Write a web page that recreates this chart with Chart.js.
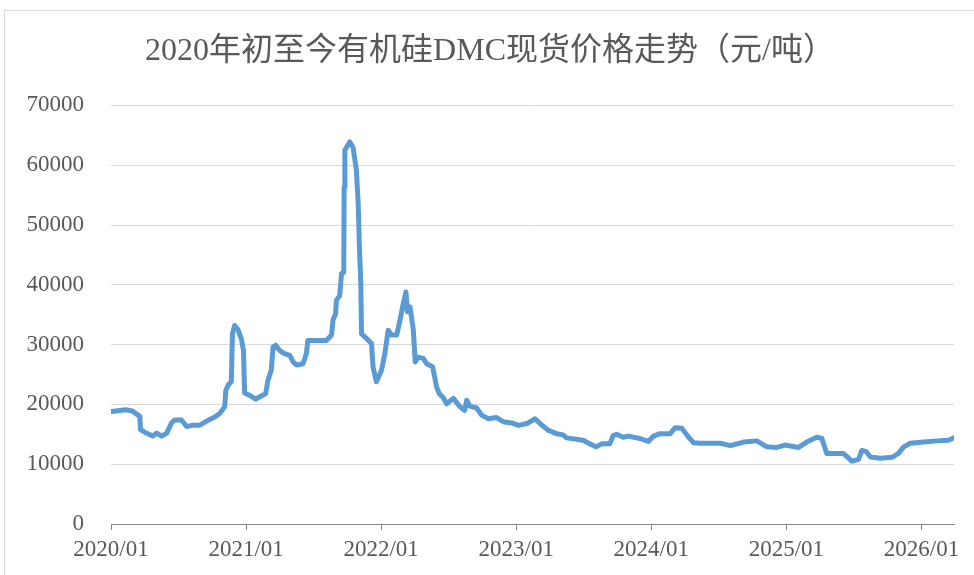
<!DOCTYPE html>
<html>
<head>
<meta charset="utf-8">
<script src="https://cdn.jsdelivr.net/npm/chart.js@4/dist/chart.umd.min.js"></script>
<style>
  html, body { margin: 0; padding: 0; background: #fff; overflow: hidden; }
  #wrap { position: relative; width: 974px; height: 575px; }
</style>
</head>
<body>
<div id="wrap"><canvas id="chart" width="974" height="575"></canvas></div>
<script>
const title = "2020年初至今有机硅DMC现货价格走势（元/吨）"

const dates = [
  "2020-01-03", "2020-02-10", "2020-02-28", "2020-03-19", "2020-03-21", "2020-04-06",
  "2020-04-23", "2020-05-04", "2020-05-17", "2020-05-31", "2020-06-13", "2020-06-22",
  "2020-07-10", "2020-07-24", "2020-08-07", "2020-08-27", "2020-09-16", "2020-10-08",
  "2020-10-22", "2020-11-04", "2020-11-07", "2020-11-13", "2020-11-22", "2020-11-25",
  "2020-12-01", "2020-12-10", "2020-12-19", "2020-12-25", "2020-12-28", "2021-01-11",
  "2021-01-27", "2021-02-11", "2021-02-23", "2021-03-01", "2021-03-10", "2021-03-15",
  "2021-03-22", "2021-04-02", "2021-04-15", "2021-04-29", "2021-05-08", "2021-05-17",
  "2021-06-04", "2021-06-13", "2021-06-17", "2021-08-06", "2021-08-20", "2021-08-24",
  "2021-08-31", "2021-09-02", "2021-09-11", "2021-09-16", "2021-09-22", "2021-09-23",
  "2021-09-25", "2021-10-08", "2021-10-17", "2021-10-26", "2021-10-31", "2021-11-03",
  "2021-11-07", "2021-11-09", "2021-11-23", "2021-12-06", "2021-12-10", "2021-12-19",
  "2022-01-02", "2022-01-11", "2022-01-20", "2022-01-29", "2022-02-12", "2022-02-21",
  "2022-03-02", "2022-03-09", "2022-03-13", "2022-03-20", "2022-03-29", "2022-04-03",
  "2022-04-11", "2022-04-25", "2022-05-04", "2022-05-20", "2022-05-31", "2022-06-07",
  "2022-06-17", "2022-06-27", "2022-07-15", "2022-08-02", "2022-08-15", "2022-08-20",
  "2022-08-29", "2022-09-16", "2022-09-30", "2022-10-18", "2022-11-09", "2022-11-27",
  "2022-12-20", "2023-01-07", "2023-01-30", "2023-02-21", "2023-03-10", "2023-03-28",
  "2023-04-20", "2023-05-08", "2023-05-17", "2023-07-01", "2023-07-19", "2023-08-05",
  "2023-08-20", "2023-09-11", "2023-09-20", "2023-09-29", "2023-10-17", "2023-10-31",
  "2023-12-01", "2023-12-24", "2024-01-07", "2024-01-25", "2024-02-21", "2024-03-06",
  "2024-03-24", "2024-04-06", "2024-04-24", "2024-05-13", "2024-07-06", "2024-08-02",
  "2024-09-07", "2024-10-13", "2024-11-09", "2024-12-06", "2024-12-28", "2025-02-03",
  "2025-02-25", "2025-03-24", "2025-04-07", "2025-04-20", "2025-06-04", "2025-06-27",
  "2025-07-15", "2025-07-24", "2025-08-05", "2025-08-16", "2025-09-12", "2025-10-13",
  "2025-10-31", "2025-11-14", "2025-12-02", "2026-01-07", "2026-02-12", "2026-03-15",
  "2026-03-30"
]

const prices = [
  18800, 19100, 18900, 18000, 15800, 15200,
  14700, 15200, 14700, 15200, 16900, 17400,
  17400, 16300, 16500, 16500, 17200, 17900,
  18500, 19600, 22300, 23200, 23800, 31800,
  33200, 32500, 31000, 29000, 21900, 21500,
  20900, 21400, 21800, 24000, 25700, 29600,
  29900, 29000, 28500, 28200, 27100, 26600,
  26800, 28500, 30700, 30700, 31600, 34100,
  35200, 37400, 38200, 41900, 42100, 56300,
  62500, 63900, 63000, 59200, 53600, 46900,
  40200, 31800, 31000, 30200, 26300, 23800,
  25700, 28500, 32400, 31600, 31600, 34100,
  36900, 38800, 35500, 36300, 32400, 27100,
  27900, 27700, 26800, 26300, 22900, 21800,
  21200, 20100, 21000, 19600, 19000, 20700,
  19700, 19400, 18200, 17600, 17800, 17100,
  16900, 16500, 16800, 17600, 16600, 15700,
  15100, 14900, 14400, 14000, 13400, 12900,
  13400, 13400, 14800, 15000, 14500, 14700,
  14300, 13800, 14700, 15100, 15100, 16100,
  16000, 14900, 13600, 13500, 13500, 13100,
  13700, 13900, 12900, 12800, 13200, 12800,
  13700, 14500, 14300, 11800, 11800, 10500,
  10800, 12300, 12100, 11200, 11000, 11150,
  11800, 12900, 13500, 13700, 13900, 14000,
  14400
]

const startYear = 2020
const tickYears = [2020, 2021, 2022, 2023, 2024, 2025, 2026]
const endDate = "2026-03-30"

// date string -> years since 2020-01-01 (Jan 1 of each year lands on an integer)
function toYears(s) {
  const [y, m, d] = s.split("-").map(Number)
  const t0 = Date.UTC(y, 0, 1)
  const t1 = Date.UTC(y + 1, 0, 1)
  return (y - startYear) + (Date.UTC(y, m - 1, d) - t0) / (t1 - t0)
}

const points = dates.map((d, i) => ({ x: toYears(d), y: prices[i] }))

const serif = "'Liberation Serif', 'Times New Roman', 'Noto Sans CJK SC', serif"
const textColor = "#595959"

const frame = {
  id: "frame",
  beforeDraw(chart) {
    const ctx = chart.ctx
    ctx.save()
    ctx.fillStyle = "#fff"
    ctx.fillRect(0, 0, chart.width, chart.height)
    ctx.strokeStyle = "#d9d9d9"
    ctx.lineWidth = 1
    ctx.strokeRect(4.5, 10.5, 1200, 800)
    ctx.restore()
  }
}

new Chart(document.getElementById("chart"), {
  type: "line",
  data: {
    datasets: [{
      data: points,
      borderColor: "#5b9bd5",
      borderWidth: 5,
      pointRadius: 0,
      tension: 0,
      borderJoinStyle: "round",
      borderCapStyle: "round"
    }]
  },
  options: {
    responsive: false,
    animation: false,
    layout: { padding: { left: 26, right: 20, top: 0, bottom: 0 } },
    plugins: {
      legend: { display: false },
      tooltip: { enabled: false },
      title: {
        display: true,
        text: title,
        color: textColor,
        font: { family: serif, size: 32, weight: "normal" },
        padding: { top: 32, bottom: 35 }
      }
    },
    scales: {
      x: {
        type: "linear",
        min: 0,
        max: toYears(endDate),
        afterBuildTicks: axis => {
          axis.ticks = tickYears.map(y => ({ value: y - startYear }))
        },
        afterFit: axis => { axis.height = 51 },
        ticks: {
          color: textColor,
          font: { family: serif, size: 23 },
          padding: 6,
          maxRotation: 0,
          autoSkip: false,
          callback: v => (startYear + v) + "/01"
        },
        grid: {
          drawOnChartArea: false,
          drawTicks: true,
          tickLength: 6,
          color: "#868686"
        },
        border: { display: true, color: "#868686", width: 1 }
      },
      y: {
        min: 0,
        max: 70000,
        afterFit: axis => { axis.width = 85 },
        ticks: {
          stepSize: 10000,
          color: textColor,
          font: { family: serif, size: 23 },
          padding: 27,
          callback: v => String(v)
        },
        grid: { color: "#d9d9d9", lineWidth: 1, drawTicks: false },
        border: { display: false }
      }
    }
  },
  plugins: [frame]
})
</script>
</body>
</html>
